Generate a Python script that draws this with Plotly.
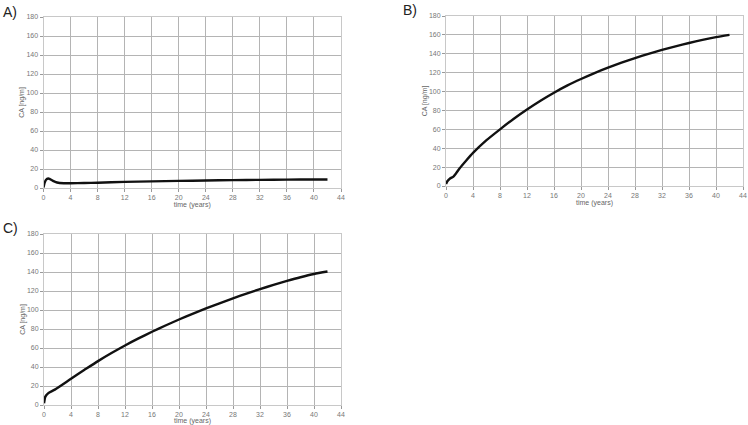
import plotly.graph_objects as go

# Data (time in years, CA in ng/m)
t_a = [0, 0.15, 0.35, 0.7, 1.0, 1.4, 2.0, 3.0, 4, 6, 8, 12, 16, 20, 24, 28, 32, 36, 40, 42]
ca_a = [0.5, 5.0, 8.5, 10.0, 9.2, 7.5, 5.8, 5.0, 5.0, 5.2, 5.6, 6.4, 7.0, 7.5, 7.9, 8.3, 8.6, 8.8, 9.0, 9.0]

t_b = [0, 0.2, 0.6, 1.1, 1.5, 2.0, 3.0, 4, 6, 8, 10, 12, 14, 16, 18, 20, 22, 24, 26, 28, 30, 32, 34, 36, 38, 40, 42]
ca_b = [2.0, 5.0, 8.0, 10.0, 13.5, 18.5, 27.0, 35.0, 48.5, 60.0, 71.0, 81.0, 90.3, 98.8, 106.5, 113.3, 119.6, 125.3, 130.6, 135.5, 140.0, 144.1, 147.9, 151.4, 154.7, 157.6, 160.0]

t_c = [0, 0.2, 0.6, 1.6, 4, 6, 8, 10, 12, 14, 16, 18, 20, 22, 24, 26, 28, 30, 32, 34, 36, 38, 40, 42]
ca_c = [1.8, 8.8, 12.3, 16.2, 27.6, 37.0, 46.2, 54.7, 62.7, 70.1, 77.1, 83.7, 90.0, 96.0, 101.7, 107.1, 112.3, 117.3, 122.0, 126.4, 130.6, 134.5, 137.9, 140.5]

panel_labels = ["A)", "B)", "C)"]
x_ticks = list(range(0, 45, 4))
y_ticks = list(range(0, 181, 20))

W, H = 748, 425
def px(x): return x / W
def py(y): return 1 - y / H

# plot area boxes in pixel coords (left, right, top, bottom)
boxes = [(43.5, 341, 17, 188), (446, 743, 16, 186), (44, 341, 234, 405)]
label_pos = [(1, 12), (401, 10), (1, 228)]
series = [(t_a, ca_a), (t_b, ca_b), (t_c, ca_c)]

fig = go.Figure()
grid = "#b4b4b4"
FONT = "Liberation Sans, Arial"
tickfont = dict(family=FONT, size=7, color="#777777")

for i, ((l, r, t, b), (tx, cy)) in enumerate(zip(boxes, series)):
    n = "" if i == 0 else str(i + 1)
    fig.add_trace(go.Scatter(x=tx, y=cy, mode="lines", line=dict(color="#111111", width=2.4, shape="spline", smoothing=0.6),
                             xaxis="x" + n, yaxis="y" + n, showlegend=False))
    fig.layout["xaxis" + n] = dict(domain=[px(l), px(r)], range=[0, 44], tickvals=x_ticks, anchor="y" + n,
                                   automargin=False,
                                   showgrid=True, gridcolor=grid, gridwidth=1, zeroline=False,
                                   showline=True, linecolor="#c8c8c8", mirror=True, ticks="outside", ticklen=3,
                                   tickcolor="#999999", tickfont=tickfont,
                                   title=dict(text="time (years)", font=dict(family=FONT, size=7, color="#666666"), standoff=0))
    fig.layout["yaxis" + n] = dict(domain=[py(b), py(t)], range=[0, 180], tickvals=y_ticks, anchor="x" + n,
                                   automargin=False,
                                   showgrid=True, gridcolor=grid, gridwidth=1, zeroline=False,
                                   showline=True, linecolor="#c8c8c8", mirror=True, ticks="outside", ticklen=3,
                                   tickcolor="#999999", tickfont=tickfont,
                                   title=dict(text="CA [ng/m]", font=dict(family=FONT, size=7, color="#666666"), standoff=0))
    lx, ly = label_pos[i]
    fig.add_annotation(text=panel_labels[i], x=px(lx), y=py(ly), xref="paper", yref="paper",
                       xanchor="left", yanchor="middle", showarrow=False,
                       font=dict(family=FONT, size=14, color="#222222"))

fig.update_layout(width=W, height=H, margin=dict(l=0, r=0, t=0, b=0),
                  paper_bgcolor="white", plot_bgcolor="white")
fig.write_html("out.html", config={"displayModeBar": False},
               post_script="document.body.style.margin='0';document.body.style.overflow='hidden';")
